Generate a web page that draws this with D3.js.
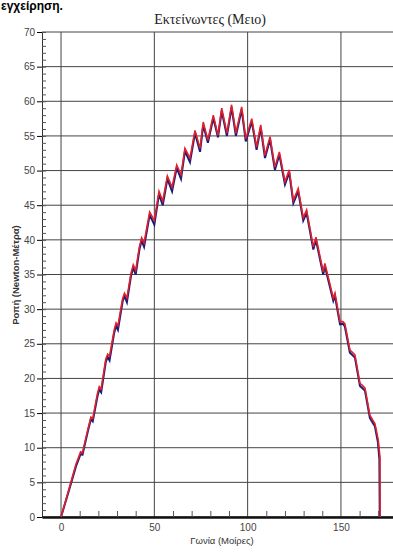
<!DOCTYPE html>
<html>
<head>
<meta charset="utf-8">
<script src="https://cdn.jsdelivr.net/npm/d3@7"></script>
<style>
  body { margin: 0; background: #fff; }
  svg { display: block; }
</style>
</head>
<body>
<div id="chart"></div>
<script>
var width = 393,
    height = 553;

var margin = {top: 32, left: 42, bottom: 36};

var title = "Εκτείνωντες (Μειο)",
    topText = "εγχείρηση.",
    xLabel = "Γωνία (Μοίρες)",
    yLabel = "Ροπή (Newton-Μέτρα)";

var xTicks = [0, 50, 100, 150],
    yTicks = [0, 5, 10, 15, 20, 25, 30, 35, 40, 45, 50, 55, 60, 65, 70];

// [angle, torque], red trace
var redSeries = [
  [0, 0], [4, 3.8], [8, 7.6], [10.5, 9.4], [11.5, 9.3], [14.5, 12.8], [16, 14.4], [17, 14.2],
  [19.5, 17.8], [20.5, 18.8], [21.5, 18.5], [24, 22.8], [25, 23.5], [26, 23.2], [28.5, 27],
  [29.5, 28], [30.5, 27.6], [33, 31.5], [34, 32.3], [35.3, 31.6], [37.5, 35.2], [38.7, 36.4],
  [40, 35.6], [42, 39], [43.2, 40.3], [44.5, 39.6], [47.5, 44], [50, 42.8], [52.5, 47],
  [54.5, 45.6], [57, 49.2], [59.5, 47.6], [62, 50.8], [64.3, 49.4], [66.4, 53.2], [69.1, 51.8],
  [71.8, 55.8], [74.5, 53.2], [76.2, 57], [78.7, 54.4], [81.6, 58], [84.1, 55.1], [86.1, 59],
  [88.9, 55.4], [91.4, 59.5], [93.7, 55.4], [96.8, 59.2], [99, 54.6], [102.2, 57.5], [104.8, 53.4],
  [107, 56.6], [109.3, 52.2], [112, 54.9], [114.6, 50.5], [117, 52.7], [120, 48.4], [122.3, 50.1],
  [124.5, 45.7], [127.1, 47.4], [129.8, 43.2], [131.6, 44.3], [135.2, 39], [136.6, 40.4],
  [140.5, 35.4], [141.4, 36.6], [145.9, 31.6], [146.8, 32.3], [149.5, 28.2], [151, 28.2],
  [152.1, 27.9], [154.8, 24.1], [156, 23.8], [157.5, 23.4], [160.2, 19.3], [161.5, 19],
  [162.9, 18.6], [165.5, 14.7], [167, 14], [168.2, 13.5], [170, 11.1], [170.9, 8.7], [171, 0]
];

// blue trace, mostly under the red one
var blueSeries = [
  [0, 0], [4, 3.6], [8, 7.3], [10.5, 9.1], [11.5, 9.0], [14.5, 12.5], [16, 14.1], [17, 13.8],
  [19.5, 17.4], [20.5, 18.4], [21.5, 18.0], [24, 22.4], [25, 23.1], [26, 22.6], [28.5, 26.6],
  [29.5, 27.6], [30.5, 27.0], [33, 31.1], [34, 31.9], [35.3, 31.0], [37.5, 34.8], [38.7, 36.0],
  [40, 35.0], [42, 38.6], [43.2, 39.9], [44.5, 39.0], [47.5, 43.6], [50, 42.2], [52.5, 46.6],
  [54.5, 45.0], [57, 48.8], [59.5, 47.0], [62, 50.4], [64.3, 48.8], [66.4, 52.8], [69.1, 51.2],
  [71.8, 55.4], [74.5, 52.7], [76.2, 56.6], [78.7, 54.0], [81.6, 57.6], [84.1, 54.8], [86.1, 58.6],
  [88.9, 55.0], [91.4, 59.1], [93.7, 55.0], [96.8, 58.8], [99, 54.2], [102.2, 57.1], [104.8, 53.0],
  [107, 56.2], [109.3, 51.8], [112, 54.5], [114.6, 50.1], [117, 52.3], [120, 48.0], [122.3, 49.7],
  [124.5, 45.3], [127.1, 47.0], [129.8, 42.8], [131.6, 43.9], [135.2, 38.6], [136.6, 40.0],
  [140.5, 35.0], [141.4, 36.2], [145.9, 31.2], [146.8, 31.9], [149.5, 27.8], [151, 27.9],
  [152.1, 27.5], [154.8, 23.7], [156, 23.4], [157.5, 23.0], [160.2, 18.9], [161.5, 18.6],
  [162.9, 18.2], [165.5, 14.3], [167, 13.6], [168.2, 13.1], [169.8, 10.8], [170.6, 8.4], [170.8, 0]
];

var svg = d3.select("#chart").append("svg")
    .attr("width", width)
    .attr("height", height)
    .style("font-family", "Arial, 'Liberation Sans', sans-serif");

var x = d3.scaleLinear()
    .domain([-10.2, 177.9])
    .range([margin.left, width]);

var y = d3.scaleLinear()
    .domain([0, 70])
    .range([height - margin.bottom, margin.top]);

// horizontal grid
svg.append("g")
    .selectAll("line")
    .data(yTicks)
    .enter().append("line")
    .attr("x1", margin.left)
    .attr("x2", width)
    .attr("y1", function(d) { return y(d); })
    .attr("y2", function(d) { return y(d); })
    .attr("stroke", "#444")
    .attr("stroke-width", 1);

// vertical grid
svg.append("g")
    .selectAll("line")
    .data(xTicks)
    .enter().append("line")
    .attr("x1", function(d) { return x(d); })
    .attr("x2", function(d) { return x(d); })
    .attr("y1", y(70))
    .attr("y2", y(0))
    .attr("stroke", "#444")
    .attr("stroke-width", 1);

// y axis: major ticks out, minor ticks in
var yAxis = svg.append("g")
    .attr("transform", "translate(" + margin.left + ",0)")
    .call(d3.axisLeft(y).tickValues(yTicks).tickSize(5).tickPadding(2));
yAxis.select(".domain").attr("stroke", "#333");
yAxis.selectAll("text").attr("font-size", 10).attr("fill", "#444");

svg.append("g")
    .attr("transform", "translate(" + margin.left + ",0)")
    .call(d3.axisRight(y).ticks(70).tickSize(4).tickFormat(""))
    .call(function(g) { g.select(".domain").remove(); })
    .selectAll("line").attr("stroke", "#555");

// x axis
var xAxis = svg.append("g")
    .attr("transform", "translate(0," + y(0) + ")")
    .call(d3.axisBottom(x).tickValues(xTicks).tickSize(0).tickPadding(7));
xAxis.select(".domain").attr("stroke", "#111").attr("stroke-width", 2.5);
xAxis.selectAll("text").attr("font-size", 10).attr("fill", "#444");

var minorX = d3.range(10, 180, 10).filter(function(d) { return d % 50 !== 0; });
svg.append("g")
    .attr("transform", "translate(0," + y(0) + ")")
    .call(d3.axisTop(x).tickValues(minorX).tickSize(6).tickFormat(""))
    .call(function(g) { g.select(".domain").remove(); })
    .selectAll("line").attr("stroke", "#555");

// traces
var line = d3.line()
    .x(function(d) { return x(d[0]); })
    .y(function(d) { return y(d[1]); });

svg.append("path")
    .datum(blueSeries)
    .attr("d", line)
    .attr("fill", "none")
    .attr("stroke", "#1c1c78")
    .attr("stroke-width", 2);

svg.append("path")
    .datum(redSeries)
    .attr("d", line)
    .attr("fill", "none")
    .attr("stroke", "#e0202c")
    .attr("stroke-width", 1.6);

// texts
svg.append("text")
    .attr("x", 1)
    .attr("y", 10)
    .attr("font-size", 12)
    .attr("font-weight", "bold")
    .text(topText);

svg.append("text")
    .attr("x", 210)
    .attr("y", 24)
    .attr("text-anchor", "middle")
    .attr("font-family", "'Liberation Serif', 'DejaVu Serif', serif")
    .attr("font-size", 14)
    .attr("fill", "#222")
    .text(title);

svg.append("text")
    .attr("x", 222)
    .attr("y", 544)
    .attr("text-anchor", "middle")
    .attr("font-size", 9.5)
    .attr("fill", "#333")
    .text(xLabel);

svg.append("text")
    .attr("transform", "translate(19,275) rotate(-90)")
    .attr("text-anchor", "middle")
    .attr("font-size", 9.5)
    .attr("font-weight", "bold")
    .attr("fill", "#333")
    .text(yLabel);
</script>
</body>
</html>
